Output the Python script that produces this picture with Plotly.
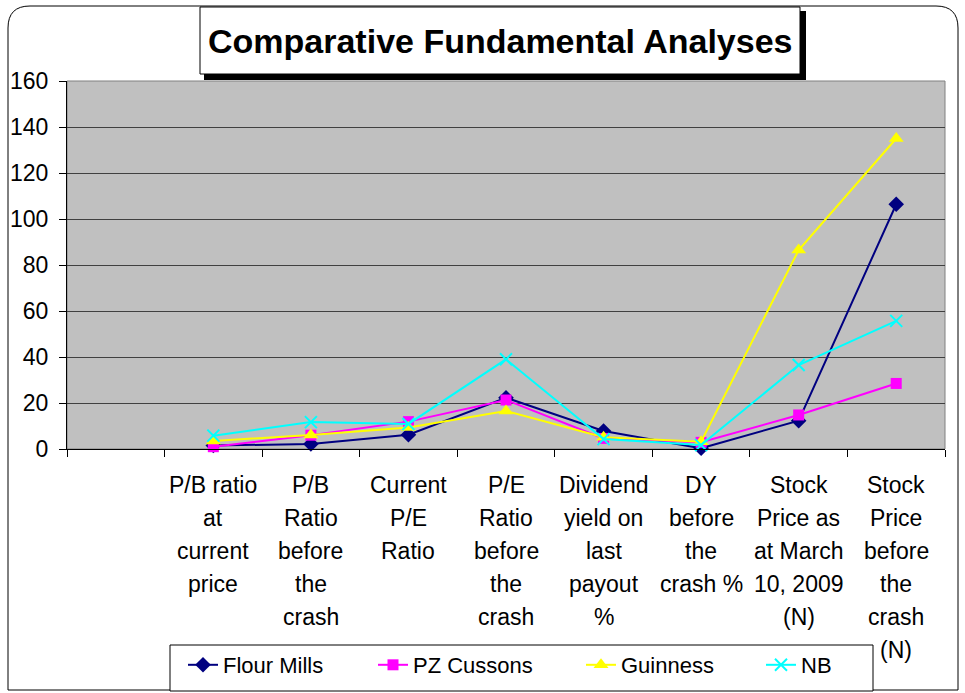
import plotly.graph_objects as go

categories = [
    "P/B ratio<br>at<br>current<br>price",
    "P/B<br>Ratio<br>before<br>the<br>crash",
    "Current<br>P/E<br>Ratio",
    "P/E<br>Ratio<br>before<br>the<br>crash",
    "Dividend<br>yield on<br>last<br>payout<br>%",
    "DY<br>before<br>the<br>crash %",
    "Stock<br>Price as<br>at March<br>10, 2009<br>(N)",
    "Stock<br>Price<br>before<br>the<br>crash<br>(N)",
]
flour_mills = [1.5, 2.2, 6.2, 22.3, 7.8, 0.3, 12.3, 106.4]
pz_cussons = [1.0, 6.0, 11.9, 21.3, 4.6, 2.9, 14.8, 28.5]
guinness = [3.5, 6.1, 9.3, 16.5, 5.1, 3.2, 86.5, 135.0]
nb = [5.8, 11.7, 10.9, 39.0, 4.3, 1.7, 36.5, 55.7]
y_ticks = [0, 20, 40, 60, 80, 100, 120, 140, 160]
title_text = "Comparative Fundamental Analyses"

FONT = "Arial, Liberation Sans, sans-serif"
W, H = 965, 693
L, R, T, B = 67, 20, 81, 244
pw, ph = W - L - R, H - T - B


def px(x):
    return (x - L) / pw


def py(y):
    return (H - B - y) / ph


series = [
    ("Flour Mills", flour_mills, "#000080", dict(symbol="diamond", size=12), 145),
    ("PZ Cussons", pz_cussons, "#FF00FF", dict(symbol="square", size=11), 163),
    ("Guinness", guinness, "#FFFF00", dict(symbol="triangle-up", size=13), 135),
    ("NB", nb, "#00FFFF", dict(symbol="x-thin-open", size=12, line=dict(width=2, color="#00FFFF")), 40),
]

fig = go.Figure()
for name, vals, color, mk, lw in series:
    fig.add_trace(go.Scatter(
        x=categories, y=vals, name=name, mode="lines+markers",
        line=dict(color=color, width=2),
        marker=dict(color=color, **mk),
        cliponaxis=False, legendwidth=lw,
    ))

# category labels, one annotation per line for Excel-like line spacing
annotations = []
for cat in categories:
    for i, line in enumerate(cat.split("<br>")):
        annotations.append(dict(
            x=cat, xref="x", y=0, yref="paper", yanchor="middle",
            yshift=-(36 + 33 * i), text=line, showarrow=False,
            font=dict(family=FONT, size=23, color="black"),
        ))

annotations.append(dict(
    x=(px(200) + px(800)) / 2, xref="paper", y=(py(7) + py(74)) / 2, yref="paper",
    xanchor="center", yanchor="middle",
    text="<b>" + title_text + "</b>", showarrow=False,
    font=dict(family=FONT, size=34, color="black"),
))

rx, ry = 22 / pw, 22 / ph
x0, x1, y0, y1 = px(8), px(958), py(690), py(6)
border_path = (
    f"M {x0},{y0} L {x0},{y1 - ry} Q {x0},{y1} {x0 + rx},{y1} "
    f"L {x1 - rx},{y1} Q {x1},{y1} {x1},{y1 - ry} L {x1},{y0} Z"
)

shapes = [
    dict(type="path", path=border_path, xref="paper", yref="paper",
         line=dict(color="black", width=1), layer="below"),
    dict(type="rect", xref="paper", yref="paper", x0=0, x1=1, y0=0, y1=1,
         line=dict(color="#808080", width=1), layer="below"),
    dict(type="rect", xref="paper", yref="paper", x0=px(204), x1=px(806), y0=py(80), y1=py(11),
         fillcolor="black", line=dict(width=0)),
    dict(type="rect", xref="paper", yref="paper", x0=px(200), x1=px(800), y0=py(74), y1=py(7),
         fillcolor="white", line=dict(color="black", width=1)),
    # legend frame
    dict(type="rect", xref="paper", yref="paper", x0=px(170), x1=px(873), y0=py(691), y1=py(645),
         fillcolor="white", line=dict(color="black", width=1)),
]

fig.update_layout(
    width=W, height=H,
    margin=dict(l=L, r=R, t=T, b=B, autoexpand=False),
    paper_bgcolor="white",
    plot_bgcolor="#C0C0C0",
    font=dict(family=FONT, size=23, color="black"),
    showlegend=True,
    legend=dict(
        orientation="h", x=px(183), xanchor="left", y=py(665), yanchor="middle",
        bgcolor="rgba(0,0,0,0)", borderwidth=0,
        font=dict(family=FONT, size=22, color="black"),
    ),
    xaxis=dict(
        type="category", categoryorder="array", categoryarray=[" "] + categories,
        range=[-0.5, len(categories) + 0.5],
        tickson="boundaries", ticks="outside", ticklen=7, tickcolor="black",
        showticklabels=False, showgrid=False, showline=True, linecolor="black",
        linewidth=1, zeroline=False,
    ),
    yaxis=dict(
        range=[0, 160], tickvals=y_ticks, ticks="outside", ticklen=7, tickcolor="black",
        showline=True, linecolor="black", linewidth=1,
        gridcolor="#404040", gridwidth=1, zeroline=False,
        tickfont=dict(family=FONT, size=23, color="black"),
        ticklabelstandoff=6,
    ),
    annotations=annotations,
    shapes=shapes,
)

fig.write_html("out.html", config={"displayModeBar": False},
               post_script="document.body.style.margin='0';")
